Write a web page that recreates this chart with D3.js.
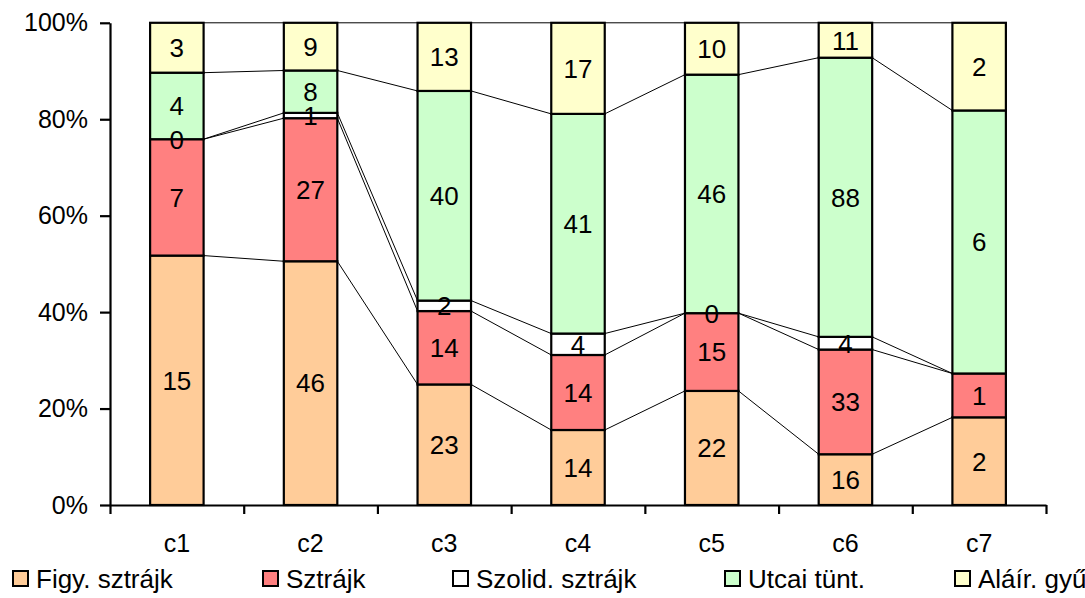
<!DOCTYPE html>
<html>
<head>
<meta charset="utf-8">
<script src="https://cdn.jsdelivr.net/npm/d3@7"></script>
<style>
  html, body { margin: 0; padding: 0; background: #fff; overflow: hidden; }
  text { font-family: "Liberation Sans", Arial, sans-serif; fill: #000; }
</style>
</head>
<body>
<div id="chart"></div>
<script>
const categories = ['c1', 'c2', 'c3', 'c4', 'c5', 'c6', 'c7'];
const seriesNames = ['Figy. sztrájk', 'Sztrájk', 'Szolid. sztrájk', 'Utcai tünt.', 'Aláír. gyűjtés'];
const figy = [15, 46, 23, 14, 22, 16, 2];
const sztrajk = [7, 27, 14, 14, 15, 33, 1];
const szolid = [0, 1, 2, 4, 0, 4, null];
const utcai = [4, 8, 40, 41, 46, 88, 6];
const alair = [3, 9, 13, 17, 10, 11, 2];
const colors = ['#FFCC99', '#FF8080', '#FFFFFF', '#CCFFCC', '#FFFFCC'];
const yTicks = [0, 0.2, 0.4, 0.6, 0.8, 1];

const width = 1085;
const height = 598;
const plotLeft = 110, plotRight = 1046, plotTop = 22.8, plotBottom = 505;

let columns = [figy, sztrajk, szolid, utcai, alair];
let table = categories.map((c, i) => {
  let row = {cat: c};
  seriesNames.forEach((s, j) => { row[s] = columns[j][i]; });
  return row;
});

let stack = d3.stack()
    .keys(seriesNames)
    .value((d, key) => d[key] || 0)
    .offset(d3.stackOffsetExpand);
let layers = stack(table);

let svg = d3.select('#chart').append('svg')
    .attr('width', width)
    .attr('height', height);

let x = d3.scaleBand()
    .domain(categories)
    .range([plotLeft, plotRight])
    .paddingInner(0.6)
    .paddingOuter(0.3);

let y = d3.scaleLinear()
    .domain([0, 1])
    .range([plotBottom, plotTop]);

// series lines between the columns
let lines = svg.append('g');
layers.forEach(layer => {
  for (let i = 0; i < layer.length - 1; i++) {
    lines.append('line')
        .attr('x1', x(categories[i]) + x.bandwidth())
        .attr('y1', y(layer[i][1]))
        .attr('x2', x(categories[i + 1]))
        .attr('y2', y(layer[i + 1][1]))
        .attr('stroke', '#000')
        .attr('stroke-width', 1);
  }
});

// bars
layers.forEach((layer, j) => {
  svg.append('g').selectAll('rect')
      .data(layer)
      .enter()
      .append('rect')
      .attr('x', d => x(d.data.cat))
      .attr('y', d => y(d[1]))
      .attr('width', x.bandwidth())
      .attr('height', d => y(d[0]) - y(d[1]))
      .attr('fill', colors[j])
      .attr('stroke', '#000')
      .attr('stroke-width', 2.2);
});

// data labels
layers.forEach(layer => {
  svg.append('g').selectAll('text')
      .data(layer.filter(d => d.data[layer.key] !== null))
      .enter()
      .append('text')
      .attr('x', d => x(d.data.cat) + x.bandwidth() / 2)
      .attr('y', d => y((d[0] + d[1]) / 2))
      .attr('dy', '0.36em')
      .attr('text-anchor', 'middle')
      .style('font-size', '26px')
      .text(d => d.data[layer.key]);
});

// y axis
let yAxis = svg.append('g')
    .attr('transform', 'translate(' + plotLeft + ',0)')
    .call(d3.axisLeft(y)
        .tickValues(yTicks)
        .tickFormat(d3.format('.0%'))
        .tickSize(10)
        .tickSizeOuter(0)
        .tickPadding(12));
yAxis.select('.domain').attr('stroke-width', 2.2);
yAxis.selectAll('.tick line').attr('stroke-width', 2.2);
yAxis.selectAll('.tick text').style('font-size', '25px').attr('font-family', null);

// x axis, ticks at category borders
let xb = d3.scaleLinear().domain([0, categories.length]).range([plotLeft, plotRight]);
let xAxis = svg.append('g')
    .attr('transform', 'translate(0,' + plotBottom + ')')
    .call(d3.axisBottom(xb)
        .tickValues(d3.range(categories.length + 1))
        .tickFormat('')
        .tickSize(9)
        .tickSizeOuter(0));
xAxis.select('.domain').attr('stroke-width', 2.2);
xAxis.selectAll('.tick line').attr('stroke-width', 2.2);

svg.append('g').selectAll('text')
    .data(categories)
    .enter()
    .append('text')
    .attr('x', d => x(d) + x.bandwidth() / 2)
    .attr('y', 552)
    .attr('text-anchor', 'middle')
    .style('font-size', '25px')
    .text(d => d);

// legend (cut at the right edge like the original)
const legendX = [13, 263, 453, 725, 955];
let legend = svg.append('g');
seriesNames.forEach((s, j) => {
  legend.append('rect')
      .attr('x', legendX[j])
      .attr('y', 571)
      .attr('width', 15)
      .attr('height', 15)
      .attr('fill', colors[j])
      .attr('stroke', '#000')
      .attr('stroke-width', 2);
  legend.append('text')
      .attr('x', legendX[j] + 23)
      .attr('y', 588)
      .style('font-size', '26px')
      .text(s);
});
</script>
</body>
</html>
